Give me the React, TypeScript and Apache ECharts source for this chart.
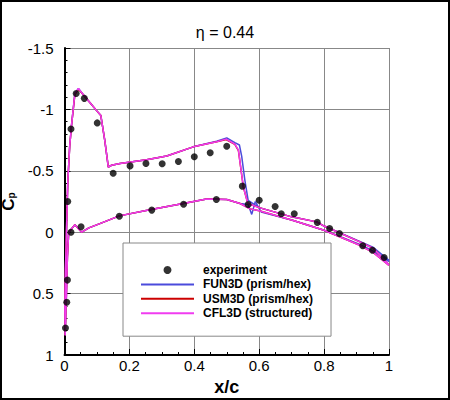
import React, { useEffect, useRef } from "react";
import * as echarts from "echarts";

const FONT = "Liberation Sans, Arial, sans-serif";

const titleText = "η = 0.44";
const xTickInterval = 0.2;
const yTickInterval = 0.5;

// experiment: [x/c, Cp]
const experimentPoints: number[][] = [
  [0.003, 0.78], [0.007, 0.57], [0.009, 0.39], [0.010, -0.25], [0.020, -0.84],
  [0.036, -1.13], [0.061, -1.09], [0.101, -0.89], [0.150, -0.48], [0.202, -0.54],
  [0.251, -0.56], [0.301, -0.557], [0.351, -0.576], [0.400, -0.614], [0.449, -0.647],
  [0.500, -0.70], [0.548, -0.375], [0.600, -0.26], [0.649, -0.21], [0.668, -0.15],
  [0.708, -0.15], [0.779, -0.08], [0.817, -0.03], [0.847, 0.01], [0.919, 0.11],
  [0.949, 0.147], [0.985, 0.206],
  [0.020, 0.0], [0.051, -0.045], [0.169, -0.13], [0.269, -0.18], [0.367, -0.228],
  [0.468, -0.266], [0.566, -0.225],
];

// CFL3D (structured)
const cfl3dUpper: number[][] = [
  [0.002, 0.84], [0.001, 0.6], [0.003, 0.3], [0.006, 0.0], [0.010, -0.4], [0.016, -0.7],
  [0.022, -0.88], [0.032, -1.13], [0.043, -1.17], [0.058, -1.12], [0.080, -1.05],
  [0.099, -0.99], [0.112, -0.95], [0.124, -0.75], [0.135, -0.53], [0.145, -0.545],
  [0.171, -0.56], [0.253, -0.59], [0.315, -0.62], [0.397, -0.695], [0.469, -0.736],
  [0.498, -0.758], [0.525, -0.717], [0.536, -0.668], [0.551, -0.37], [0.565, -0.234],
  [0.600, -0.2], [0.700, -0.125], [0.777, -0.084], [0.800, -0.05], [0.910, 0.079],
  [0.952, 0.133], [1.0, 0.265],
];
const cfl3dLower: number[][] = [
  [0.002, 0.84], [0.006, 0.5], [0.009, 0.2], [0.013, 0.0], [0.032, -0.06], [0.053, 0.0],
  [0.075, -0.035], [0.109, -0.07], [0.169, -0.133], [0.263, -0.183], [0.366, -0.234],
  [0.438, -0.27], [0.500, -0.266], [0.541, -0.234], [0.572, -0.19], [0.600, -0.174],
  [0.700, -0.1], [0.800, -0.016], [0.910, 0.106], [0.952, 0.166], [1.0, 0.27],
];

// USM3D (prism/hex)
const usm3dUpper: number[][] = [
  [0.002, 0.84], [0.001, 0.6], [0.003, 0.3], [0.006, 0.0], [0.010, -0.4], [0.016, -0.7],
  [0.022, -0.88], [0.032, -1.12], [0.043, -1.165], [0.058, -1.12], [0.080, -1.05],
  [0.099, -0.99], [0.112, -0.95], [0.124, -0.75], [0.135, -0.53], [0.145, -0.545],
  [0.171, -0.56], [0.253, -0.59], [0.315, -0.62], [0.397, -0.695], [0.469, -0.736],
  [0.498, -0.755], [0.525, -0.715], [0.536, -0.665], [0.551, -0.37], [0.565, -0.234],
  [0.600, -0.2], [0.700, -0.125], [0.777, -0.084], [0.800, -0.05], [0.910, 0.079],
  [0.952, 0.133], [1.0, 0.265],
];
const usm3dLower: number[][] = [
  [0.002, 0.84], [0.006, 0.5], [0.009, 0.2], [0.013, 0.0], [0.032, -0.06], [0.053, 0.0],
  [0.075, -0.035], [0.109, -0.07], [0.169, -0.133], [0.263, -0.183], [0.366, -0.234],
  [0.438, -0.27], [0.500, -0.266], [0.541, -0.234], [0.572, -0.19], [0.600, -0.174],
  [0.700, -0.1], [0.800, -0.016], [0.910, 0.106], [0.952, 0.166], [1.0, 0.27],
];

// FUN3D (prism/hex)
const fun3dUpper: number[][] = [
  [0.002, 0.84], [0.001, 0.6], [0.003, 0.3], [0.006, 0.0], [0.010, -0.4], [0.016, -0.7],
  [0.022, -0.88], [0.032, -1.13], [0.043, -1.17], [0.058, -1.12], [0.080, -1.05],
  [0.099, -0.99], [0.112, -0.95], [0.124, -0.75], [0.135, -0.53], [0.145, -0.545],
  [0.171, -0.56], [0.253, -0.59], [0.315, -0.62], [0.397, -0.695], [0.469, -0.74],
  [0.500, -0.768], [0.525, -0.73], [0.539, -0.71], [0.546, -0.62], [0.556, -0.42],
  [0.566, -0.26], [0.600, -0.2], [0.700, -0.125], [0.777, -0.084], [0.800, -0.05],
  [0.910, 0.075], [0.952, 0.125], [1.0, 0.23],
];
const fun3dLower: number[][] = [
  [0.002, 0.84], [0.006, 0.5], [0.009, 0.2], [0.013, 0.0], [0.032, -0.06], [0.053, 0.0],
  [0.075, -0.035], [0.109, -0.07], [0.169, -0.133], [0.263, -0.183], [0.366, -0.234],
  [0.438, -0.27], [0.500, -0.266], [0.541, -0.234], [0.566, -0.225], [0.577, -0.145],
  [0.588, -0.25], [0.606, -0.165], [0.700, -0.1], [0.800, -0.016], [0.910, 0.1],
  [0.952, 0.155], [1.0, 0.24],
];

const seriesNames = ["experiment", "FUN3D (prism/hex)", "USM3D (prism/hex)", "CFL3D (structured)"];
const lineColors = ["#4b4bdc", "#cc0000", "#f03cf0"];

function loop(upper: number[][], lower: number[][]) {
  return [...upper].reverse().concat(lower);
}

export default function App() {
  const ref = useRef<HTMLDivElement>(null);
  useEffect(() => {
    if (!ref.current) return;
    const chart = echarts.init(ref.current, undefined, { renderer: "svg" });
    const lineSeries = (name: string, color: string, data: number[][], z: number) => ({
      name,
      type: "line",
      data,
      symbol: "none",
      z,
      lineStyle: { color, width: 1.5 },
      itemStyle: { color },
    });
    chart.setOption({
      animation: false,
      backgroundColor: "#fff",
      textStyle: { fontFamily: FONT },
      title: {
        text: titleText,
        left: "center",
        top: 19,
        textStyle: { fontFamily: FONT, fontSize: 16, fontWeight: "normal", color: "#000" },
      },
      grid: { left: 64.5, right: 61, top: 48, bottom: 45, outerBoundsMode: "none", containLabel: false },
      xAxis: {
        type: "value",
        min: 0,
        max: 1,
        interval: xTickInterval,
        name: "x/c",
        nameLocation: "middle",
        nameGap: 13,
        nameTextStyle: { fontFamily: FONT, fontSize: 18, fontWeight: "bold", color: "#000" },
        axisLine: { show: true, onZero: false, lineStyle: { color: "#000", width: 2 } },
        axisTick: { show: true, inside: true, length: 6, lineStyle: { color: "#000", width: 1 } },
        minorTick: { show: true, splitNumber: 4, length: 3, lineStyle: { color: "#000", width: 1 } },
        axisLabel: { fontFamily: FONT, fontSize: 15, color: "#000", margin: 3 },
        splitLine: { show: true, lineStyle: { color: "#888", width: 1 } },
      },
      yAxis: {
        type: "value",
        inverse: true,
        min: -1.5,
        max: 1,
        interval: yTickInterval,
        name: "{c|C}{p|p}",
        nameLocation: "middle",
        nameRotate: 90,
        nameGap: 46,
        nameTextStyle: {
          color: "#000",
          rich: {
            c: { fontFamily: FONT, fontSize: 17, fontWeight: "bold", color: "#000" },
            p: { fontFamily: FONT, fontSize: 10, fontWeight: "bold", color: "#000", verticalAlign: "bottom" },
          },
        },
        axisLine: { show: true, onZero: false, lineStyle: { color: "#000", width: 2 } },
        axisTick: { show: true, inside: true, length: 6, lineStyle: { color: "#000", width: 1 } },
        minorTick: { show: true, splitNumber: 5, length: 3, lineStyle: { color: "#000", width: 1 } },
        axisLabel: { fontFamily: FONT, fontSize: 15, color: "#000", margin: 11 },
        splitLine: { show: true, lineStyle: { color: "#888", width: 1 } },
      },
      legend: {
        orient: "vertical",
        left: 123,
        top: 243,
        data: [
          { name: seriesNames[0], icon: "circle" },
          { name: seriesNames[1], itemStyle: { opacity: 0 } },
          { name: seriesNames[2], itemStyle: { opacity: 0 } },
          { name: seriesNames[3], itemStyle: { opacity: 0 } },
        ],
        itemWidth: 53,
        itemHeight: 8,
        itemGap: 2.4,
        padding: [21, 18, 17, 17],
        backgroundColor: "#fff",
        borderColor: "#888",
        borderWidth: 1,
        selectedMode: false,
        textStyle: {
          fontFamily: FONT,
          fontSize: 12,
          fontWeight: "bold",
          color: "#000",
          lineHeight: 12,
          padding: [0, 0, 0, 4],
        },
      },
      graphic: [
        {
          type: "rect",
          shape: { x: 1, y: 1, width: 448, height: 398 },
          style: { fill: "none", stroke: "#000", lineWidth: 2 },
          z: 100,
          silent: true,
        },
      ],
      series: [
        lineSeries(seriesNames[1], lineColors[0], loop(fun3dUpper, fun3dLower), 2),
        lineSeries(seriesNames[2], lineColors[1], loop(usm3dUpper, usm3dLower), 3),
        lineSeries(seriesNames[3], lineColors[2], loop(cfl3dUpper, cfl3dLower), 4),
        {
          name: seriesNames[0],
          type: "scatter",
          data: experimentPoints,
          symbol: "circle",
          symbolSize: 7,
          z: 5,
          itemStyle: { color: "#000" },
        },
      ],
    });
    return () => chart.dispose();
  }, []);
  return (
    <div
      ref={ref}
      style={{ position: "fixed", left: 0, top: 0, width: 450, height: 400 }}
    />
  );
}
